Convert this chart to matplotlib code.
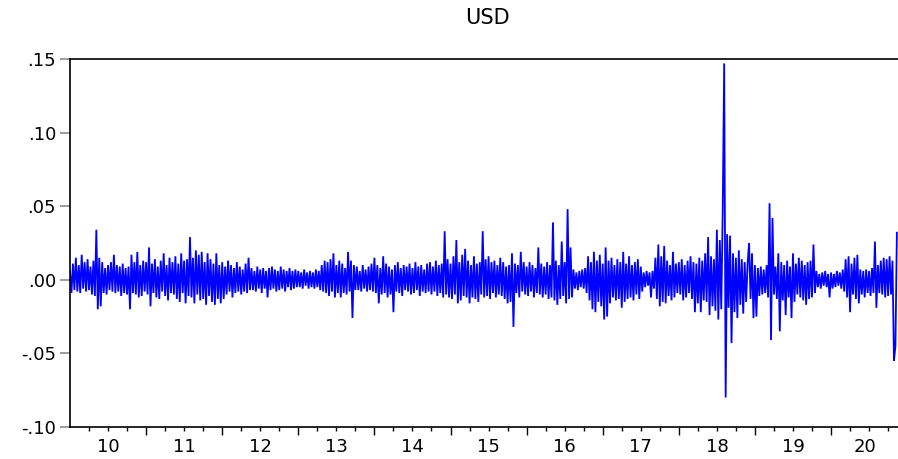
import matplotlib
matplotlib.use("Agg")
import matplotlib.pyplot as plt

# weekly swings of the USD daily return, in percent, one list per calendar year
usd_2010 = [0.6, -0.9, 1.1, -0.7, 1.5, -0.8, 1.0, -0.9, 1.7, -0.6,
            1.2, -0.8, 1.4, -0.7, 0.9, -1.0, 1.3, -1.1, 3.4, -2.0,
            1.5, -1.8, 1.2, -0.9, 0.8, -1.0, 1.0, -0.7, 1.2, -0.8,
            1.7, -0.9, 1.0, -0.8, 0.9, -1.1, 1.1, -0.9, 0.8, -1.0,
            0.9, -2.0, 1.7, -0.9, 1.2, -1.0, 1.9, -1.2, 1.0, -1.1, 1.3, -0.8]
usd_2011 = [1.2, -1.0, 2.2, -1.8, 1.1, -0.9, 1.4, -1.2, 0.9, -1.3,
            1.3, -0.8, 1.8, -1.1, 1.0, -1.4, 1.5, -0.9, 1.2, -1.0,
            1.6, -1.3, 1.1, -1.5, 1.8, -0.9, 1.3, -1.6, 1.4, -1.1,
            2.9, -1.2, 1.5, -1.6, 2.0, -1.0, 1.7, -1.4, 1.9, -1.3,
            1.2, -1.7, 1.8, -1.1, 1.4, -1.5, 1.1, -1.7, 1.8, -1.3, 1.0, -1.6]
usd_2012 = [1.2, -1.3, 0.9, -1.0, 1.3, -0.8, 1.0, -1.2, 0.8, -0.9,
            1.2, -0.8, 0.9, -1.0, 0.7, -0.8, 1.1, -0.9, 1.5, -0.7,
            0.8, -0.7, 0.6, -0.8, 0.9, -0.6, 0.7, -0.9, 0.8, -0.6,
            0.6, -1.2, 0.8, -0.7, 0.9, -0.6, 0.7, -0.8, 0.6, -0.7,
            0.9, -0.6, 0.7, -0.8, 0.6, -0.5, 0.8, -0.7, 0.6, -0.6, 0.7, -0.5]
usd_2013 = [0.6, -0.5, 0.5, -0.6, 0.7, -0.4, 0.5, -0.6, 0.6, -0.5,
            0.5, -0.6, 0.7, -0.5, 0.6, -0.7, 1.0, -0.8, 1.3, -0.9,
            1.2, -1.1, 1.4, -0.8, 1.8, -1.2, 1.0, -0.9, 1.3, -1.2,
            1.1, -0.9, 0.8, -1.0, 1.9, -0.8, 1.3, -2.6, 1.0, -0.7,
            0.9, -0.7, 0.6, -0.8, 1.0, -0.6, 0.7, -0.8, 0.9, -0.7, 1.1, -0.8]
usd_2014 = [1.5, -0.9, 1.0, -1.6, 0.8, -1.0, 1.6, -0.9, 1.1, -1.2,
            0.9, -1.0, 0.7, -2.2, 1.0, -0.8, 1.2, -0.9, 0.8, -1.1,
            1.0, -0.7, 0.9, -0.8, 1.1, -1.0, 0.8, -0.9, 1.2, -0.7,
            0.9, -1.1, 1.0, -0.8, 0.7, -0.9, 1.1, -0.8, 1.2, -1.0,
            0.9, -0.8, 1.3, -1.1, 1.0, -0.9, 1.1, -1.2, 3.3, -1.0, 1.4, -1.2]
usd_2015 = [1.1, -1.3, 1.6, -1.0, 2.7, -1.6, 1.2, -1.4, 1.7, -1.1,
            2.1, -1.2, 1.3, -1.6, 1.0, -1.2, 1.6, -1.3, 1.1, -1.5,
            1.2, -1.0, 3.3, -1.2, 1.4, -1.1, 1.6, -1.3, 1.2, -0.9,
            1.3, -1.2, 1.0, -1.0, 1.5, -1.1, 1.2, -1.3, 0.9, -1.6,
            1.0, -1.5, 1.8, -3.2, 1.1, -0.9, 1.0, -1.2, 1.9, -0.8, 1.2, -1.0]
usd_2016 = [0.9, -1.1, 1.2, -0.8, 1.0, -1.2, 0.8, -0.9, 2.2, -1.0,
            1.1, -1.2, 0.9, -1.0, 1.2, -1.3, 1.0, -1.2, 3.9, -1.4,
            1.3, -1.7, 1.0, -1.3, 2.6, -1.1, 1.2, -1.6, 4.8, -1.3,
            2.2, -1.2, 0.7, -0.6, 0.5, -0.7, 0.6, -0.5, 0.7, -0.6,
            0.8, -0.9, 1.6, -1.4, 1.2, -2.0, 1.9, -2.2, 1.3, -1.5, 1.7, -1.8]
usd_2017 = [1.1, -2.7, 2.2, -2.5, 1.3, -1.6, 1.5, -1.2, 1.0, -1.4,
            1.4, -1.3, 1.2, -1.9, 1.9, -1.5, 1.1, -1.3, 1.6, -1.2,
            1.0, -1.4, 1.2, -1.0, 1.4, -1.3, 0.9, -0.8, 0.5, -0.5,
            0.6, -0.4, 0.5, -1.2, 0.6, -0.6, 1.5, -1.3, 2.4, -1.8,
            1.6, -1.5, 2.3, -1.6, 1.3, -1.1, 1.0, -1.4, 1.9, -1.2, 1.1, -0.9]
usd_2018 = [1.2, -1.0, 1.4, -1.4, 1.0, -1.2, 1.3, -0.9, 1.6, -1.3,
            1.2, -2.2, 1.1, -1.6, 1.5, -2.2, 1.3, -1.4, 1.8, -1.5,
            2.9, -2.4, 1.6, -1.8, 1.4, -2.1, 3.4, -2.7, 2.7, -2.0,
            4.7, 14.7, -8.0, 3.1, -1.9, 3.0, -4.3, 1.8, -2.2, 1.5,
            -2.6, 2.0, -1.7, 1.4, -2.3, 1.2, -1.5, 1.1, 2.5, -1.3, 1.8, -2.6]
usd_2019 = [1.0, -2.5, 0.8, -1.1, 0.9, -1.0, 0.7, -0.9, 1.0, -1.2,
            5.2, -4.1, 4.2, -1.0, 0.9, -1.3, 1.8, -3.5, 1.2, -1.4,
            1.0, -2.4, 1.3, -1.2, 0.9, -2.6, 1.8, -1.5, 1.1, -1.0,
            1.5, -1.2, 1.3, -1.4, 1.0, -1.7, 1.2, -1.3, 1.3, -1.2,
            2.4, -0.9, 0.6, -0.5, 0.4, -0.6, 0.5, -0.4, 0.6, -0.5, 0.4, -1.2]
usd_2020 = [0.5, -0.6, 0.4, -0.5, 0.6, -0.4, 0.5, -0.6, 0.7, -0.8,
            1.4, -1.2, 1.6, -2.2, 1.1, -1.0, 1.5, -1.3, 1.7, -1.6,
            0.7, -1.0, 0.6, -1.2, 0.7, -0.9, 0.6, -1.1, 0.8, -0.9,
            2.6, -1.9, 1.0, -0.9, 1.3, -1.0, 1.5, -1.2, 1.4, -1.1,
            1.6, -1.0, 1.3, -5.5, -4.5, 3.2]

years = list(range(2010, 2021))
year_series = [usd_2010, usd_2011, usd_2012, usd_2013, usd_2014, usd_2015,
               usd_2016, usd_2017, usd_2018, usd_2019, usd_2020]
year_labels = ["10", "11", "12", "13", "14", "15", "16", "17", "18", "19", "20"]
y_ticks = [-0.10, -0.05, 0.00, 0.05, 0.10, 0.15]
y_tick_labels = ["-.10", "-.05", ".00", ".05", ".10", ".15"]
x_end = 2020.88

# decimal-year position for each weekly value
t, r = [], []
for yr, vals in zip(years, year_series):
    for k, v in enumerate(vals):
        t.append(yr + k / 52)
        r.append(v / 100)

plt.rcParams["font.family"] = ["DejaVu Sans"]

fig = plt.figure(figsize=(8.98, 4.59), dpi=100)
ax = fig.add_axes([70 / 898, 32 / 459, 828 / 898, 368 / 459])

ax.plot(t, r, color="#0000ff", lw=1.3, solid_joinstyle="miter")

ax.set_xlim(2010, x_end)
ax.set_ylim(-0.10, 0.15)

ax.set_yticks(y_ticks, y_tick_labels)
ax.tick_params(axis="y", direction="out", length=7, width=1.2,
               color="#8c8c8c", pad=3, labelsize=13)

ax.set_xticks(years[1:])
ax.set_xticks([yr + q / 4 for yr in years for q in (1, 2, 3)
               if yr + q / 4 < x_end], minor=True)
ax.tick_params(axis="x", which="major", direction="out", length=6,
               width=1, labelbottom=False)
ax.tick_params(axis="x", which="minor", direction="out", length=3, width=1)

for yr, lbl in zip(years, year_labels):
    cx = (yr + min(yr + 1, x_end)) / 2
    ax.annotate(lbl, (cx, 0), xycoords=("data", "axes fraction"),
                xytext=(0, -8), textcoords="offset points",
                ha="center", va="top", fontsize=13)

ax.spines["right"].set_visible(False)
for side in ("left", "bottom", "top"):
    ax.spines[side].set_linewidth(1.2)

fig.text(487 / 898, 1 - 18 / 459, "USD", ha="center", va="center",
         fontsize=15)

fig.savefig("out.png", dpi=100)
